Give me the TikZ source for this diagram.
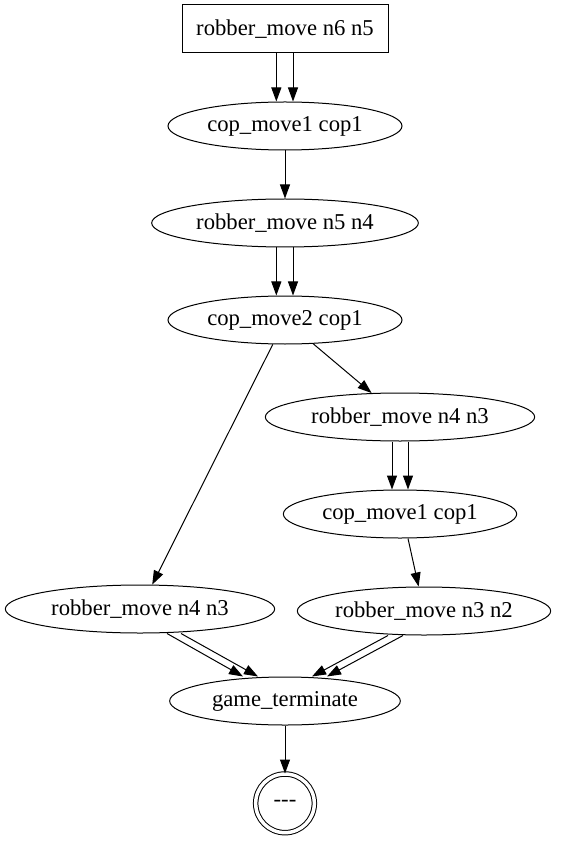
\documentclass[tikz,border=0pt]{standalone}
\usepackage{fontspec}
\setmainfont{Liberation Serif}
\usepackage{tikz}
\usetikzlibrary{shapes.geometric, arrows.meta, positioning}
\tikzset{
  movebox/.style={rectangle, draw, line width=0.75pt, inner sep=0pt,
    minimum width=154.5pt, minimum height=36pt},
  movestate/.style={ellipse, draw, line width=0.75pt, inner sep=0pt,
    minimum height=36pt},
  endstate/.style={circle, draw, line width=0.75pt, double, double distance=2.6pt,
    inner sep=0pt, minimum size=44pt},
  edgearr/.style={-{Triangle[length=10.5pt,width=7.5pt]}, line width=0.75pt}
}

\begin{document}
\begin{tikzpicture}[x=0.75pt, y=-0.75pt, node distance=36pt,
    font=\fontsize{17pt}{19pt}\selectfont]
  \useasboundingbox (0,0) rectangle (571,841);

  %% MAIN COLUMN
  \node[movebox] (rmA) at (285,29) {robber\_move n6 n5};
  \node[movestate, minimum width=175.5pt, below=of rmA] (cmA)
    {cop\_move1 cop1};
  \node[movestate, minimum width=200pt, below=of cmA] (rmB)
    {robber\_move n5 n4};
  \node[movestate, minimum width=175.5pt, below=of rmB] (cmB)
    {cop\_move2 cop1};

  %% RIGHT BRANCH
  \node[movestate, minimum width=202pt, below=of cmB, xshift=86.25pt] (rmC)
    {robber\_move n4 n3};
  \node[movestate, minimum width=175pt, below=of rmC] (cmC)
    {cop\_move1 cop1};
  \node[movestate, minimum width=190pt, below=of cmC, xshift=18pt] (rmD)
    {robber\_move n3 n2};

  %% LEFT BRANCH
  \node[movestate, minimum width=202pt, below=180pt of cmB, xshift=-108.75pt] (rmE)
    {robber\_move n4 n3};

  %% END
  \node[movestate, minimum width=173pt] (term) at (285,701)
    {game\_terminate};
  \node[endstate, below=of term] (done) {-{}-{}-};

  \draw[edgearr] ([xshift=-6.5pt]rmA.south) -- ([xshift=-6.5pt]cmA.north);
  \draw[edgearr] ([xshift=6pt]rmA.south) -- ([xshift=6pt]cmA.north);
  \draw[edgearr] (cmA) -- (rmB);
  \draw[edgearr] ([xshift=-6.5pt]rmB.south) -- ([xshift=-6.5pt]cmB.north);
  \draw[edgearr] ([xshift=6pt]rmB.south) -- ([xshift=6pt]cmB.north);
  \draw[edgearr] (cmB) -- (rmC);
  \draw[edgearr] (cmB) -- (rmE);
  \draw[edgearr] ([xshift=-6pt]rmC.south) -- ([xshift=-6pt]cmC.north);
  \draw[edgearr] ([xshift=6pt]rmC.south) -- ([xshift=6pt]cmC.north);
  \draw[edgearr] ([xshift=6pt]cmC.south) -- (rmD);

  \draw[edgearr] ([xshift=20.25pt]rmE.south) -- ([xshift=-31.5pt]term.north);
  \draw[edgearr] ([xshift=30.75pt]rmE.south) -- ([xshift=-20.25pt]term.north);
  \draw[edgearr] ([xshift=-27pt]rmD.south) -- ([xshift=20.25pt]term.north);
  \draw[edgearr] ([xshift=-15.75pt]rmD.south) -- ([xshift=31.5pt]term.north);
  \draw[edgearr] (term) -- (done);

\end{tikzpicture}
\end{document}
